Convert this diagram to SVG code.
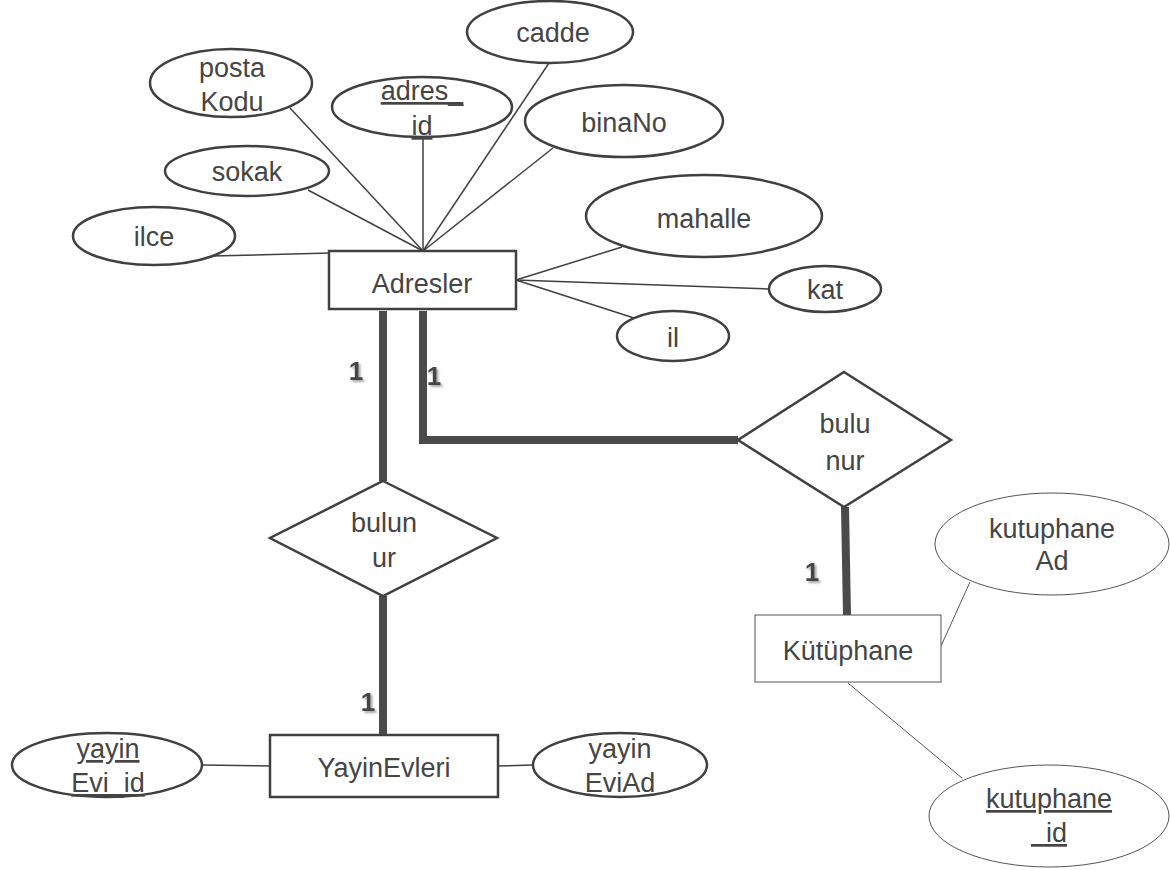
<svg xmlns="http://www.w3.org/2000/svg" width="1170" height="870" viewBox="0 0 1170 870">
<style>
text{font-family:"Liberation Sans",Arial,sans-serif;font-size:27px;fill:#454545;text-anchor:middle}
.attr{fill:#fff;stroke:#404040;stroke-width:2.5}
.thin{fill:#fff;stroke:#555;stroke-width:1}
.ent{fill:#fff;stroke:#404040;stroke-width:2.5}
.rel{fill:#fff;stroke:#404040;stroke-width:2.5}
.ln{stroke:#404040;stroke-width:1.5;fill:none}
.tln{stroke:#555;stroke-width:1;fill:none}
.thick{stroke:#4a4a4a;stroke-width:8;fill:none}
.card{font-weight:bold;font-size:26px;fill:#444;filter:url(#sh)}
.u{text-decoration:underline}
</style>
<defs>
<filter id="sh" x="-50%" y="-50%" width="200%" height="200%">
<feDropShadow dx="2" dy="2" stdDeviation="1.2" flood-color="#000" flood-opacity="0.35"/>
</filter>
</defs>
<rect width="1170" height="870" fill="#fff"/>
<g id="connectors">
<line class="ln" x1="290" y1="108" x2="423" y2="251"/>
<line class="ln" x1="308" y1="190" x2="423" y2="251"/>
<line class="ln" x1="423" y1="139" x2="423" y2="251"/>
<line class="ln" x1="549" y1="63" x2="423" y2="251"/>
<line class="ln" x1="553" y1="148" x2="423" y2="251"/>
<line class="ln" x1="212" y1="256" x2="330" y2="253"/>
<line class="ln" x1="516" y1="280" x2="622" y2="247"/>
<line class="ln" x1="516" y1="280" x2="769" y2="289"/>
<line class="ln" x1="516" y1="280" x2="634" y2="318"/>
<line class="ln" x1="202" y1="765" x2="270" y2="766"/>
<line class="ln" x1="498" y1="766" x2="533" y2="765"/>
<line class="tln" x1="970" y1="582" x2="941" y2="646"/>
<line class="tln" x1="848" y1="683" x2="962" y2="778"/>
<line class="thick" x1="383" y1="311" x2="383" y2="481"/>
<polyline class="thick" points="423,311 423,440 738,440"/>
<line class="thick" x1="383" y1="596" x2="383" y2="735"/>
<line class="thick" x1="845" y1="507" x2="847" y2="615"/>
<text class="card" x="356" y="380">1</text>
<text class="card" x="434" y="385">1</text>
<text class="card" x="368" y="711">1</text>
<text class="card" x="812" y="581">1</text>
</g>
<g id="Adresler">
<rect class="ent" x="329" y="251" width="187" height="58"/>
<text x="422" y="293">Adresler</text>
</g>
<g id="cadde">
<ellipse class="attr" cx="550" cy="32" rx="83" ry="31"/>
<text x="553" y="42">cadde</text>
</g>
<g id="postaKodu">
<ellipse class="attr" cx="231" cy="83" rx="81" ry="34"/>
<text x="232" y="77">posta</text>
<text x="232" y="111">Kodu</text>
</g>
<g id="adres_id">
<ellipse class="attr" cx="422" cy="107" rx="90" ry="30"/>
<text x="422" y="100" class="u">adres_</text>
<text x="422" y="135" class="u">id</text>
</g>
<g id="sokak">
<ellipse class="attr" cx="247" cy="171" rx="82" ry="25"/>
<text x="247" y="181">sokak</text>
</g>
<g id="ilce">
<ellipse class="attr" cx="154" cy="236" rx="81" ry="29"/>
<text x="154" y="246">ilce</text>
</g>
<g id="binaNo">
<ellipse class="attr" cx="624" cy="121" rx="99" ry="36"/>
<text x="624" y="132">binaNo</text>
</g>
<g id="mahalle">
<ellipse class="attr" cx="704" cy="216" rx="118" ry="41"/>
<text x="704" y="228">mahalle</text>
</g>
<g id="kat">
<ellipse class="attr" cx="825" cy="289" rx="56" ry="23"/>
<text x="825" y="299">kat</text>
</g>
<g id="il">
<ellipse class="attr" cx="673" cy="336" rx="56" ry="25"/>
<text x="673" y="347">il</text>
</g>
<g id="bulunur1">
<polygon class="rel" points="383,481 497,538 383,596 270,538"/>
<text x="384" y="532">bulun</text>
<text x="384" y="567">ur</text>
</g>
<g id="bulunur2">
<polygon class="rel" points="844,372 951,440 844,507 738,440"/>
<text x="845" y="433">bulu</text>
<text x="845" y="470">nur</text>
</g>
<g id="YayinEvleri">
<rect class="ent" x="270" y="735" width="228" height="62"/>
<text x="384" y="777">YayinEvleri</text>
</g>
<g id="yayinEvi_id">
<ellipse class="attr" cx="107" cy="765" rx="95" ry="32"/>
<text x="108" y="758" class="u">yayin</text>
<text x="108" y="792" class="u">Evi_id</text>
</g>
<g id="yayinEviAd">
<ellipse class="attr" cx="620" cy="765" rx="87" ry="32"/>
<text x="620" y="758">yayin</text>
<text x="620" y="792">EviAd</text>
</g>
<g id="Kutuphane">
<rect class="thin" x="755" y="615" width="186" height="67"/>
<text x="848" y="660">Kütüphane</text>
</g>
<g id="kutuphaneAd">
<ellipse class="thin" cx="1052" cy="544" rx="117" ry="51"/>
<text x="1052" y="538">kutuphane</text>
<text x="1052" y="570">Ad</text>
</g>
<g id="kutuphane_id">
<ellipse class="thin" cx="1049" cy="816" rx="120" ry="51"/>
<text x="1049" y="808" class="u">kutuphane</text>
<text x="1049" y="842" class="u">&#160;&#160;id</text>
</g>
</svg>
